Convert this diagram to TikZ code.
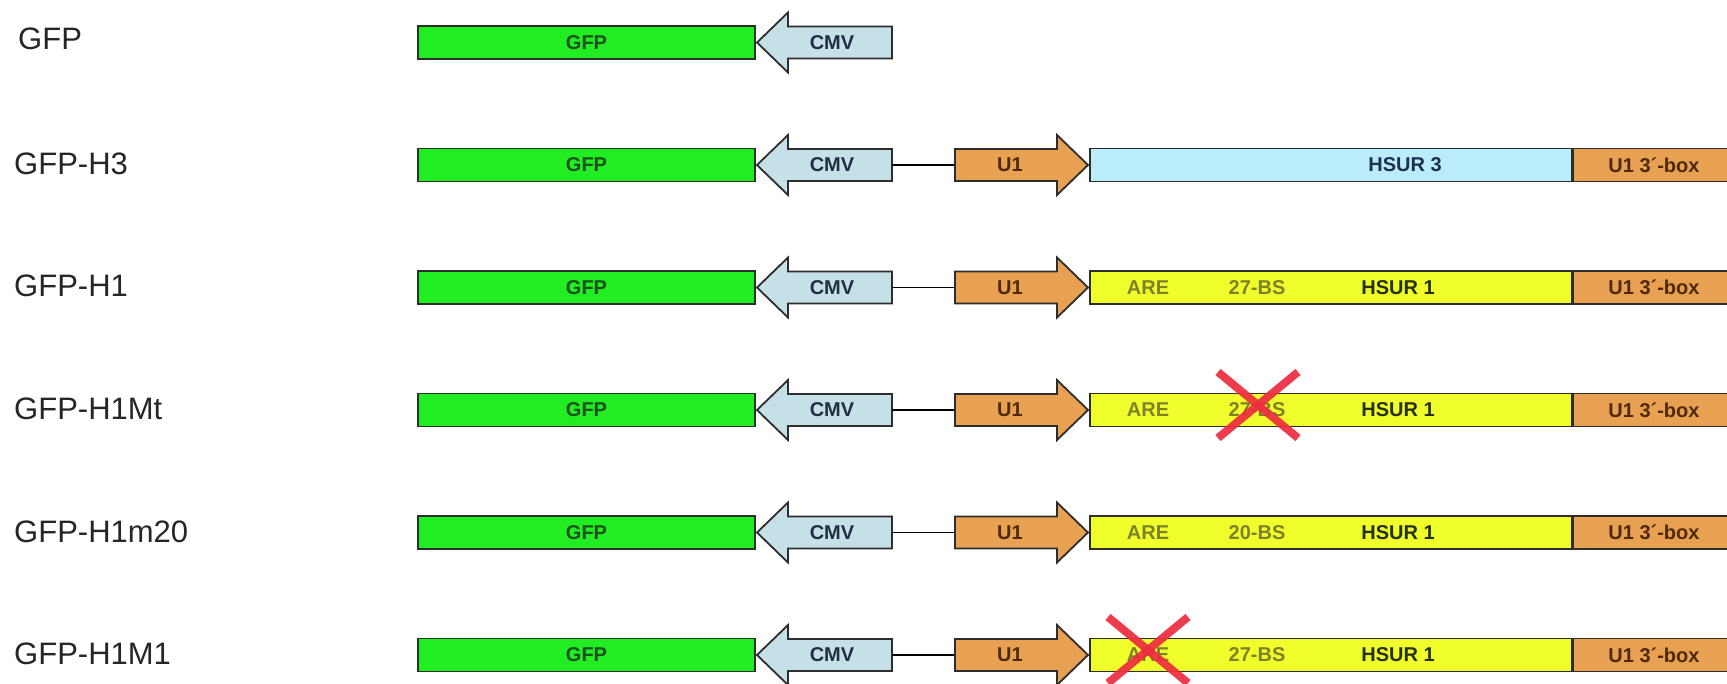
\documentclass[tikz,border=0pt]{standalone}
\usepackage{fontspec}
\setmainfont{Liberation Sans}
\definecolor{gfpfill}{RGB}{34,236,34}
\definecolor{gfptext}{RGB}{28,80,28}
\definecolor{cmvfill}{RGB}{198,224,232}
\definecolor{cmvtext}{RGB}{30,48,66}
\definecolor{orfill}{RGB}{232,160,82}
\definecolor{ortext}{RGB}{80,42,6}
\definecolor{hsthreefill}{RGB}{186,236,250}
\definecolor{hsthreetext}{RGB}{30,48,78}
\definecolor{hsonefill}{RGB}{240,255,44}
\definecolor{hsonetext}{RGB}{40,48,10}
\definecolor{oltext}{RGB}{128,128,40}
\definecolor{outline}{RGB}{45,45,45}
\definecolor{crossred}{RGB}{236,44,62}
\tikzset{
  box/.style={draw=outline, line width=1.8pt, rectangle, inner sep=0pt, minimum height=33pt},
  shp/.style={draw=outline, line width=1.8pt, line join=miter},
  inlabel/.style={font=\fontsize{20}{24}\selectfont\bfseries, inner sep=0pt},
  rowlabel/.style={font=\fontsize{31}{37}\selectfont, anchor=west, inner sep=0pt, text=black!85},
  linker/.style={draw=black, line width=1.3pt},
  cross/.style={draw=crossred, line width=8pt, opacity=0.92}
}
% GFP box + CMV arrow
\newcommand\gfpcmv[2]{%
  \node[box, fill=gfpfill, minimum width=337pt] (gfp#2) at (586.5,#1) {};
  \node[inlabel, text=gfptext] (gfpt#2) at (586.5,#1) {GFP};
  \filldraw[shp, fill=cmvfill] (757,#1) -- (788,#1-30) -- (788,#1-16) -- (892,#1-16)
     -- (892,#1+16) -- (788,#1+16) -- (788,#1+30) -- cycle;
  \coordinate (cmvR#2) at (892,#1);
  \node[inlabel, text=cmvtext] (cmv#2) at (832,#1) {CMV};
}
% linker + U1 arrow + 3'-box
\newcommand\uone[2]{%
  \coordinate (uL#2) at (955,#1);
  \draw[linker] (cmvR#2) -- (uL#2);
  \filldraw[shp, fill=orfill] (955,#1-16) -- (1057,#1-16) -- (1057,#1-30) -- (1088,#1)
     -- (1057,#1+30) -- (1057,#1+16) -- (955,#1+16) -- cycle;
  \node[inlabel, text=ortext] (u1#2) at (1010,#1) {U1};
  \node[box, fill=orfill, minimum width=180pt, anchor=west] (ubox#2) at (1572,#1) {};
  \node[inlabel, text=ortext] (uboxt#2) at (1654,#1) {U1 3´-box};
}
\newcommand\hsurone[3]{%
  \node[box, fill=hsonefill, minimum width=482pt] (hs#2) at (1331,#1) {};
  \node[inlabel, text=oltext] (are#2) at (1148,#1) {ARE};
  \node[inlabel, text=oltext] (bs#2) at (1257,#1) {#3};
  \node[inlabel, text=hsonetext] (hst#2) at (1398,#1) {HSUR 1};
}
\begin{document}
\begin{tikzpicture}[x=1pt, y=-1pt]
\clip (0,0) rectangle (1727,683);
\fill[white] (0,0) rectangle (1727,683);

% Row 1: GFP
\node[rowlabel] (lab1) at (18,39) {GFP};
\gfpcmv{42.5}{1}

% Row 2: GFP-H3
\node[rowlabel] (lab2) at (14,164) {GFP-H3};
\gfpcmv{165}{2}
\node[box, fill=hsthreefill, minimum width=482pt] (hs2) at (1331,165) {};
\node[inlabel, text=hsthreetext] (hst2) at (1405,165) {HSUR 3};
\uone{165}{2}

% Row 3: GFP-H1
\node[rowlabel] (lab3) at (14,286) {GFP-H1};
\gfpcmv{287.5}{3}
\hsurone{287.5}{3}{27-BS}
\uone{287.5}{3}

% Row 4: GFP-H1Mt
\node[rowlabel] (lab4) at (14,409) {GFP-H1Mt};
\gfpcmv{410}{4}
\hsurone{410}{4}{27-BS}
\uone{410}{4}
\draw[cross] (1218,372) -- (1298,438);
\draw[cross] (1298,372) -- (1218,438);

% Row 5: GFP-H1m20
\node[rowlabel] (lab5) at (14,532) {GFP-H1m20};
\gfpcmv{532.5}{5}
\hsurone{532.5}{5}{20-BS}
\uone{532.5}{5}

% Row 6: GFP-H1M1
\node[rowlabel] (lab6) at (14,654) {GFP-H1M1};
\gfpcmv{655}{6}
\hsurone{655}{6}{27-BS}
\uone{655}{6}
\draw[cross] (1108,617) -- (1188,683);
\draw[cross] (1188,617) -- (1108,683);
\end{tikzpicture}
\end{document}
